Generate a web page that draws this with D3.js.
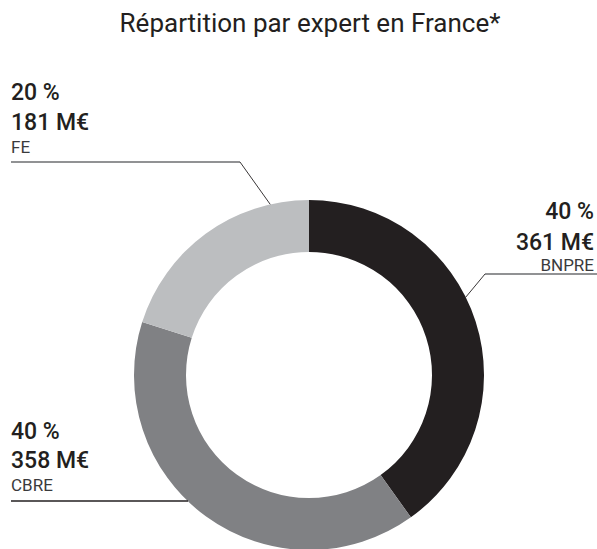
<!DOCTYPE html>
<html><head><meta charset="utf-8">
<script src="https://cdn.jsdelivr.net/npm/d3@7"></script>
<style>body{margin:0;background:#fff}svg{display:block}</style>
</head><body>
<svg id="c" width="597" height="549"></svg>
<script>
const categories = ["BNPRE", "CBRE", "FE"];
const values = [361, 358, 181];
const percentLabels = ["40 %", "40 %", "20 %"];
const amountLabels = ["361 M€", "358 M€", "181 M€"];
const colors = ["#231f20", "#808184", "#bcbec0"];

const svg = d3.select("#c");
const cx = 309, cy = 375, rOuter = 175, rInner = 123;
const font = "Roboto, 'DejaVu Sans', sans-serif";

svg.append("text").attr("x", 310).attr("y", 32).attr("text-anchor", "middle")
  .attr("font-family", font).attr("font-size", 26).attr("fill", "#231f20")
  .text("Répartition par expert en France*");

const pie = d3.pie().sort(null).value(d => d)(values);
const arc = d3.arc().innerRadius(rInner).outerRadius(rOuter);
const g = svg.append("g").attr("transform", `translate(${cx},${cy})`);
g.selectAll("path").data(pie).join("path")
  .attr("d", arc).attr("fill", (d, i) => colors[i]);

// label layout (positions only)
const layout = [
  { anchor: "end", x: 594, y: [219, 250, 271], lineY: 274, lineX: [485, 597], angle: 63.6 },
  { anchor: "start", x: 11, y: [439, 468, 491], lineY: 501, lineX: [11, 188], angle: 223.8 },
  { anchor: "start", x: 11, y: [100, 130, 153], lineY: 162, lineX: [11, 240], angle: 347.2 }
];

categories.forEach((c, i) => {
  const L = layout[i];
  const a = L.angle * Math.PI / 180;
  const px = cx + rOuter * Math.sin(a), py = cy - rOuter * Math.cos(a);
  svg.append("line").attr("x1", L.lineX[0]).attr("x2", L.lineX[1])
    .attr("y1", L.lineY).attr("y2", L.lineY)
    .attr("stroke", i === 1 ? "#231f20" : "#6d6e71").attr("stroke-width", 1.3);
  const jx = L.anchor === "end" ? L.lineX[0] : L.lineX[1];
  if (i !== 1) {
    svg.append("line").attr("x1", jx).attr("y1", L.lineY).attr("x2", px).attr("y2", py)
      .attr("stroke", "#231f20").attr("stroke-width", 0.9);
  }
  const t = svg.append("g").attr("font-family", font).attr("fill", "#231f20").attr("text-anchor", L.anchor);
  t.append("text").attr("x", L.x).attr("y", L.y[0]).attr("font-size", 23).attr("font-weight", 500).text(percentLabels[i]);
  t.append("text").attr("x", L.x).attr("y", L.y[1]).attr("font-size", 23).attr("font-weight", 500).text(amountLabels[i]);
  t.append("text").attr("x", L.x).attr("y", L.y[2]).attr("font-size", 17).attr("fill", "#3a3a3c").text(c);
});
</script>
</body></html>
